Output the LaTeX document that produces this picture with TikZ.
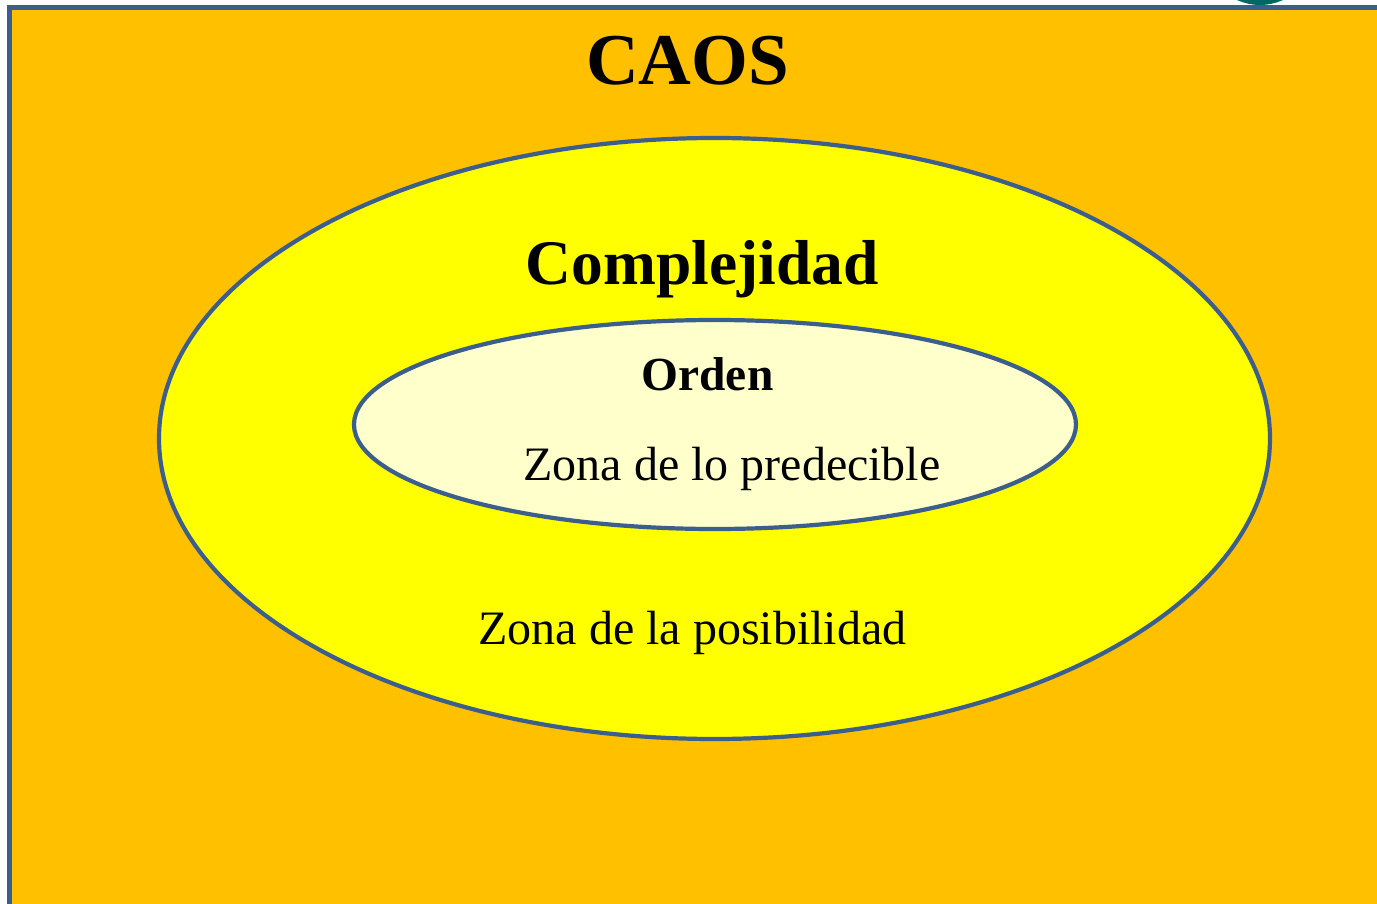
\documentclass[tikz,border=0pt]{standalone}
\usepackage{fontspec}
\setmainfont{Liberation Serif}
\definecolor{caosbg}{HTML}{FFC000}
\definecolor{edgeblue}{HTML}{3B5E8C}
\definecolor{complefill}{HTML}{FFFF00}
\definecolor{ordenfill}{HTML}{FFFFCC}
\definecolor{tealdot}{HTML}{006666}
\tikzset{
  zone/.style={draw=edgeblue, line width=4.2pt},
  lbl/.style={anchor=base, inner sep=0pt, text=black},
}
\begin{document}
\begin{tikzpicture}[x=1pt,y=-1pt]
\useasboundingbox (0,0) rectangle (1377,904);
\clip (0,0) rectangle (1377,904);
\fill[white] (0,0) rectangle (1377,904);
\fill[tealdot] (1260,-50) circle (55);
\draw[fill=caosbg, draw=edgeblue, line width=5pt] (9.5,7.5) rectangle (1400,930);
\draw[zone, fill=complefill] (714.5,438.5) ellipse [x radius=555.5, y radius=300.5];
\draw[zone, fill=ordenfill] (715,424.5) ellipse [x radius=361, y radius=104.5];
\node[lbl, font=\fontsize{73}{80}\selectfont\bfseries] (caos) at (687.5,85) {CAOS};
\node[lbl, font=\fontsize{63.5}{70}\selectfont\bfseries] (comp) at (702,285) {Complejidad};
\node[lbl, font=\fontsize{47.5}{54}\selectfont\bfseries] (orden) at (707.5,390) {Orden};
\node[lbl, font=\fontsize{48}{54}\selectfont] (pred) at (732,480) {Zona de lo predecible};
\node[lbl, font=\fontsize{48}{54}\selectfont] (posi) at (692.5,644) {Zona de la posibilidad};
\end{tikzpicture}
\end{document}
